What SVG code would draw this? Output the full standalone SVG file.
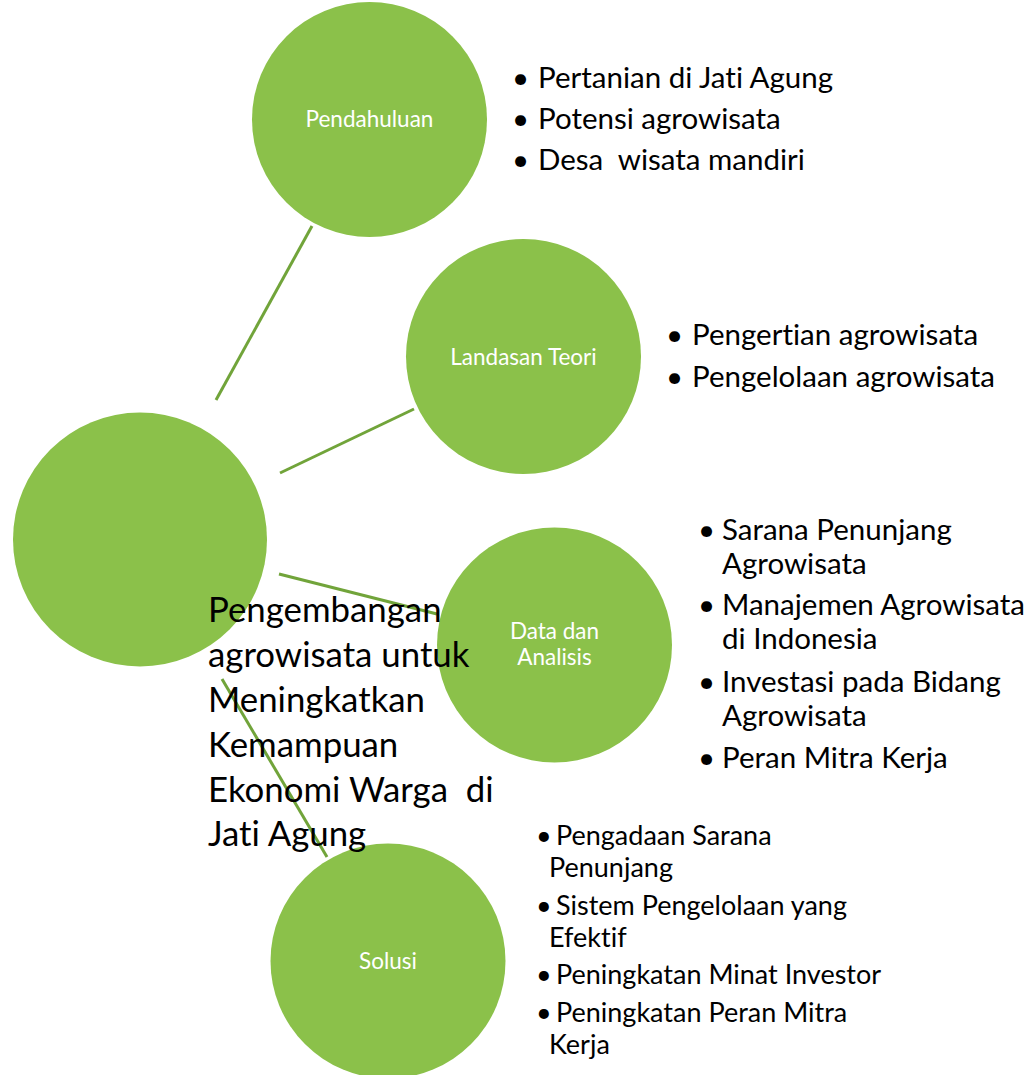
<svg xmlns="http://www.w3.org/2000/svg" width="1035" height="1075" viewBox="0 0 1035 1075">
<style>
text{font-variant-ligatures:none;font-feature-settings:"liga" 0,"clig" 0,"dlig" 0}
.node{fill:#8BC14A}
.lbl{fill:#fff;font-family:Lato,"Open Sans",sans-serif;font-size:22.5px;text-anchor:middle}
.conn{stroke:#71A43A;stroke-width:3;fill:none}
.list{fill:#000;font-family:Lato,"Open Sans",sans-serif;font-size:29.5px}
.sol{fill:#000;font-family:Lato,"Open Sans",sans-serif;font-size:27px}
.title{fill:#000;font-family:Lato,"Open Sans",sans-serif;font-size:34.8px}
</style>
<rect width="1035" height="1075" fill="#fff"/>
<g id="connectors">
<line class="conn" x1="216" y1="400" x2="312" y2="226"/>
<line class="conn" x1="280" y1="473" x2="414" y2="409"/>
<line class="conn" x1="279" y1="574" x2="437" y2="614"/>
<line class="conn" x1="222" y1="679" x2="327" y2="857"/>
</g>
<g id="node-center"><circle class="node" cx="140" cy="539.5" r="127"/></g>
<g id="node-pendahuluan"><circle class="node" cx="369.5" cy="119.5" r="117.5"/><text class="lbl" x="369.5" y="127">Pendahuluan</text></g>
<g id="node-landasan"><circle class="node" cx="523.5" cy="356.5" r="117.5"/><text class="lbl" x="523.5" y="365">Landasan Teori</text></g>
<g id="node-data"><circle class="node" cx="554.5" cy="645" r="117.5"/><text class="lbl" x="554.5" y="639">Data dan</text><text class="lbl" x="554.5" y="665">Analisis</text></g>
<g id="node-solusi"><circle class="node" cx="388" cy="961" r="117.5"/><text class="lbl" x="388" y="969">Solusi</text></g>
<g id="title"><text class="title" xml:space="preserve"><tspan x="208" y="622">Pengembangan</tspan><tspan x="208" y="667">agrowisata untuk</tspan><tspan x="208" y="712">Meningkatkan</tspan><tspan x="208" y="757">Kemampuan</tspan><tspan x="208" y="802">Ekonomi Warga  di</tspan><tspan x="208" y="846">Jati Agung</tspan></text></g>
<g id="list-pendahuluan" class="list">
<text x="512" y="88">•</text><text x="538" y="88">Pertanian di Jati Agung</text>
<text x="512" y="129">•</text><text x="538" y="129">Potensi agrowisata</text>
<text x="512" y="170">•</text><text x="538" y="170" xml:space="preserve">Desa  wisata mandiri</text>
</g>
<g id="list-landasan" class="list">
<text x="666" y="345">•</text><text x="692" y="345">Pengertian agrowisata</text>
<text x="666" y="387">•</text><text x="692" y="387">Pengelolaan agrowisata</text>
</g>
<g id="list-data" class="list">
<text x="698" y="540">•</text><text x="722" y="540">Sarana Penunjang</text>
<text x="722" y="574">Agrowisata</text>
<text x="698" y="615">•</text><text x="722" y="615">Manajemen Agrowisata</text>
<text x="722" y="649">di Indonesia</text>
<text x="698" y="692">•</text><text x="722" y="692">Investasi pada Bidang</text>
<text x="722" y="726">Agrowisata</text>
<text x="698" y="768">•</text><text x="722" y="768">Peran Mitra Kerja</text>
</g>
<g id="list-solusi" class="sol">
<text x="536" y="845">•</text><text x="556" y="845">Pengadaan Sarana</text>
<text x="549" y="877">Penunjang</text>
<text x="536" y="915">•</text><text x="556" y="915">Sistem Pengelolaan yang</text>
<text x="549" y="947">Efektif</text>
<text x="536" y="984">•</text><text x="556" y="984">Peningkatan Minat Investor</text>
<text x="536" y="1022">•</text><text x="556" y="1022">Peningkatan Peran Mitra</text>
<text x="549" y="1054">Kerja</text>
</g>
</svg>
